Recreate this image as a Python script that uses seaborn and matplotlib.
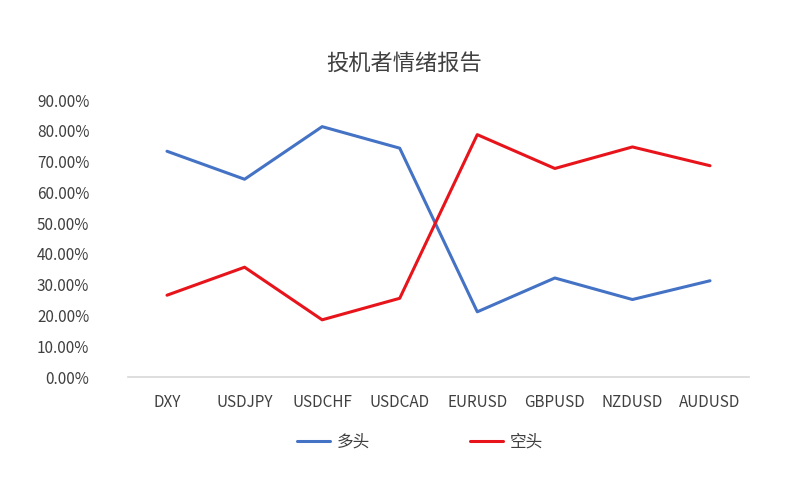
import matplotlib
matplotlib.use("Agg")
import matplotlib.pyplot as plt
import seaborn as sns
import pandas as pd
from matplotlib.ticker import FuncFormatter

categories = ["DXY", "USDJPY", "USDCHF", "USDCAD", "EURUSD", "GBPUSD", "NZDUSD", "AUDUSD"]
long_vals = [0.734, 0.643, 0.814, 0.744, 0.212, 0.322, 0.252, 0.313]
short_vals = [0.266, 0.357, 0.186, 0.256, 0.788, 0.678, 0.748, 0.687]

sns.set_theme(style="white")
plt.rcParams['font.family'] = ['Noto Sans CJK SC', 'DejaVu Sans']

df = pd.DataFrame({"cat": categories * 2,
                   "val": long_vals + short_vals,
                   "s": ["多头"] * 8 + ["空头"] * 8})

fig = plt.figure(figsize=(8.08, 4.84), dpi=100)
ax = fig.add_axes([0.1587, 0.221, 0.768, 0.572])
sns.lineplot(data=df, x="cat", y="val", hue="s", palette=["#4472C4", "#E8141B"],
             linewidth=2.2, ax=ax, sort=False)
ax.set_ylim(0, 0.9)
ax.set_yticks([i / 10 for i in range(10)])
ax.yaxis.set_major_formatter(FuncFormatter(lambda v, p: f"{v*100:.2f}%"))
ax.set_xlim(-0.5, 7.5)
ax.set_xlabel("")
ax.set_ylabel("")
for s in ["top", "right", "left"]:
    ax.spines[s].set_visible(False)
ax.spines["bottom"].set_color("#D9D9D9")
ax.tick_params(axis="both", labelsize=11, colors="#404040", length=0)
ax.tick_params(axis="x", pad=12)
ax.tick_params(axis="y", pad=28)
ax.legend(loc="upper center", bbox_to_anchor=(0.47, -0.15), ncol=2, frameon=False,
          fontsize=12, handlelength=2.0, handletextpad=0.4, columnspacing=6,
          labelcolor="#404040")
fig.suptitle("投机者情绪报告", y=0.89, fontsize=16, color="#404040")
fig.savefig("out.png", dpi=100)
